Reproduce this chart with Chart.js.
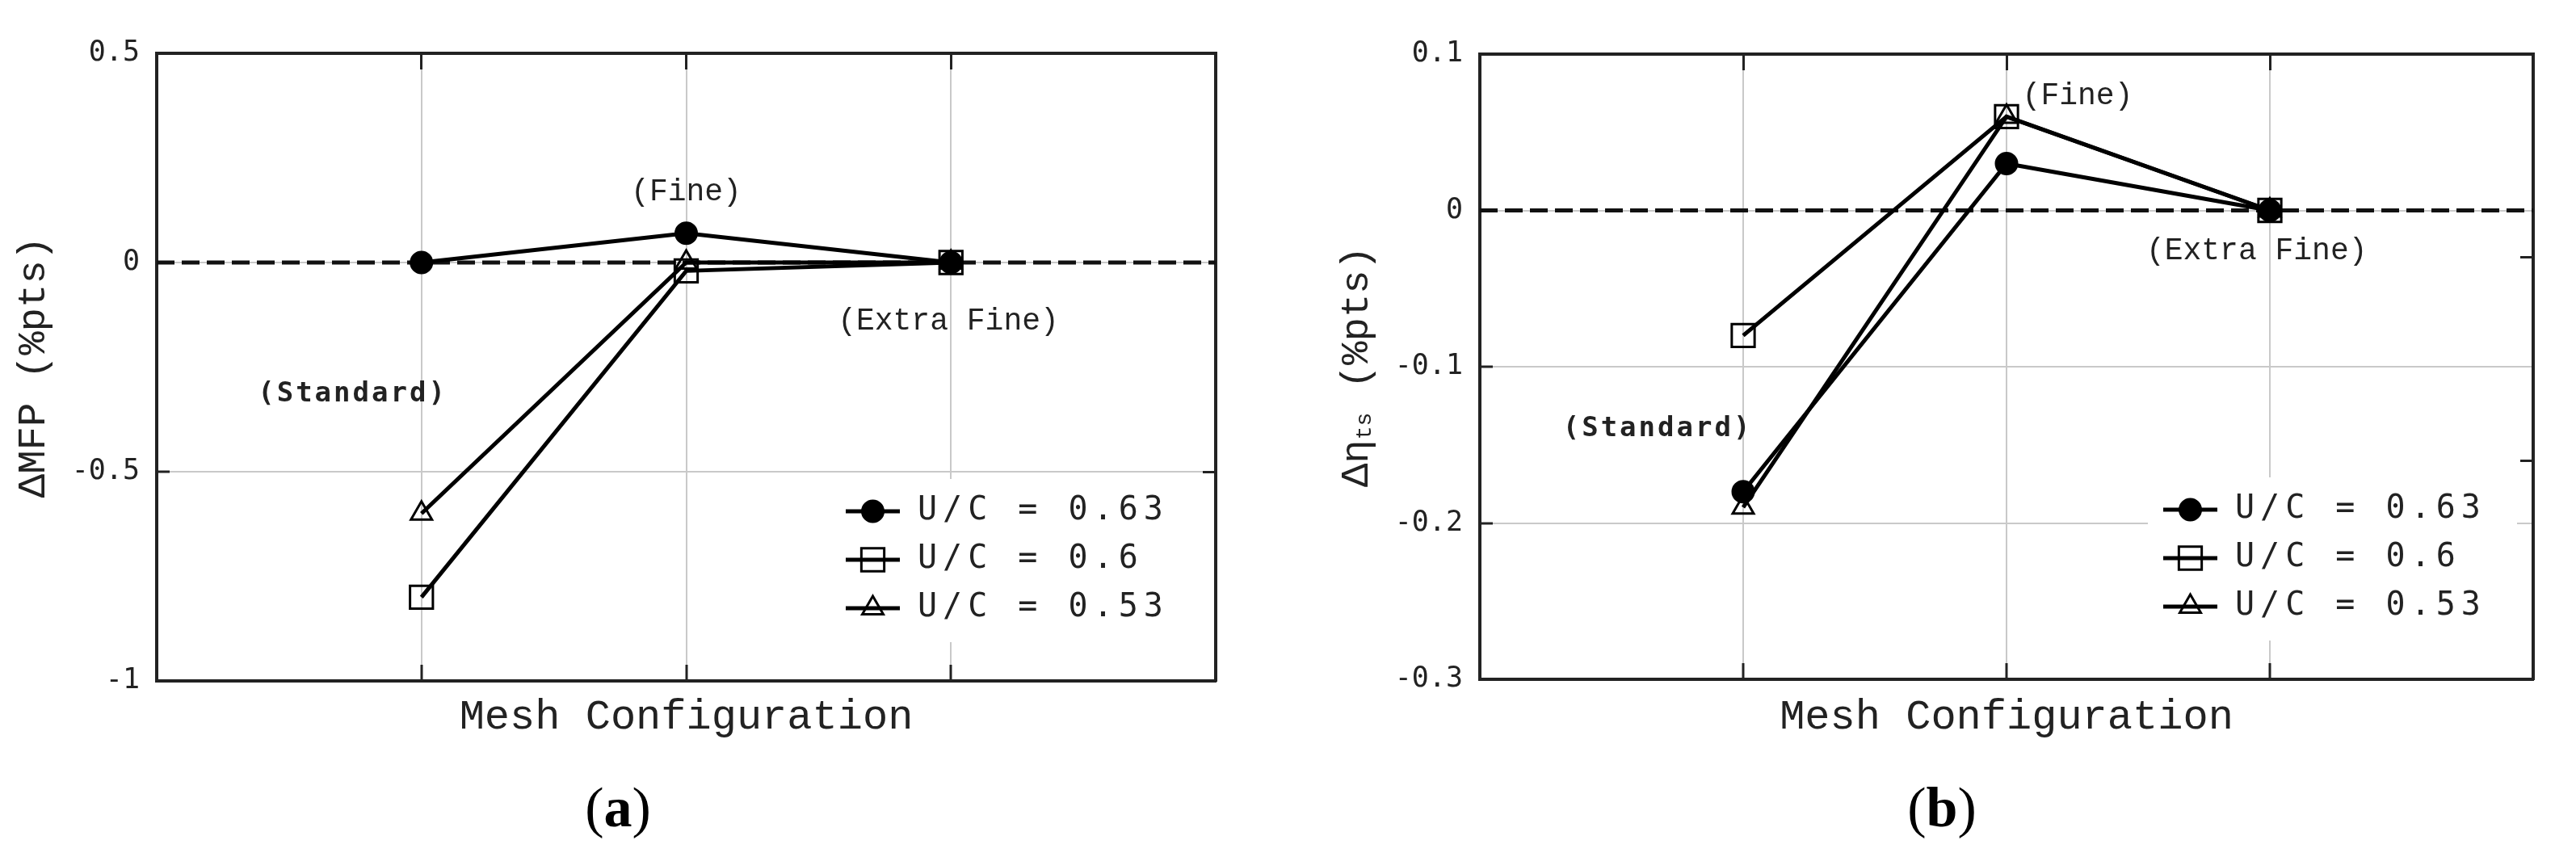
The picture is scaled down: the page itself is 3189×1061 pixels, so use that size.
<!DOCTYPE html>
<html>
<head>
<meta charset="utf-8">
<title>Mesh sensitivity</title>
<script src="https://cdn.jsdelivr.net/npm/chart.js@4.4.1/dist/chart.umd.min.js"></script>
<style>
  html, body { margin: 0; padding: 0; background: #fff; }
  body { position: relative; width: 3189px; height: 1061px; overflow: hidden; }
  .panel { position: absolute; top: 0; height: 1061px; }
  #panelA { left: 0; width: 1594px; }
  #panelB { left: 1594px; width: 1595px; }
  .tag { position: absolute; top: 1000px; transform: translate(-50%, -50%); font-family: "Liberation Serif", serif; font-size: 70px; color: #000; line-height: 1; }
</style>
</head>
<body>
<div class="panel" id="panelA"><canvas id="chartA"></canvas></div>
<div class="panel" id="panelB"><canvas id="chartB"></canvas></div>
<div class="tag" style="left:765px">(<b>a</b>)</div>
<div class="tag" style="left:2404px">(<b>b</b>)</div>
<script>
const meshLevels = ['Standard', 'Fine', 'Extra Fine'];
const meshPos = [1, 2, 3];
const seriesLabels = ['U/C = 0.63', 'U/C = 0.6', 'U/C = 0.53'];

// (a) change in MFP, %pts
const mfp063 = [0, 0.07, 0];
const mfp060 = [-0.8, -0.02, 0];
const mfp053 = [-0.6, 0, 0];
const mfpTicks = [-1, -0.5, 0, 0.5];
const mfpRightTicks = [-0.5];

// (b) change in eta_ts, %pts
const eta063 = [-0.18, 0.03, 0];
const eta060 = [-0.08, 0.06, 0];
const eta053 = [-0.19, 0.06, 0];
const etaTicks = [-0.3, -0.2, -0.1, 0, 0.1];
const etaRightTicks = [-0.16, -0.03];

const ink = '#222';
const gridGray = '#c9c9c9';
const markers = [
    { shape: 'circle', radius: 13, fill: '#000' },
    { shape: 'rect', radius: 20, fill: 'rgba(0,0,0,0)' },
    { shape: 'triangle', radius: 15, fill: 'rgba(0,0,0,0)' }
];

function drawMarker(ctx, m, x, y) {
    ctx.save();
    ctx.lineWidth = 3;
    ctx.strokeStyle = '#000';
    ctx.fillStyle = m.fill;
    ctx.beginPath();
    if (m.shape === 'circle') {
        ctx.arc(x, y, m.radius, 0, Math.PI * 2);
    } else if (m.shape === 'rect') {
        const h = m.radius * Math.SQRT1_2;
        ctx.rect(x - h, y - h, 2 * h, 2 * h);
    } else {
        for (let k = 0; k < 3; k++) {
            const r = k * 2 * Math.PI / 3;
            const px = x + Math.sin(r) * m.radius, py = y - Math.cos(r) * m.radius;
            if (k === 0) ctx.moveTo(px, py); else ctx.lineTo(px, py);
        }
        ctx.closePath();
    }
    ctx.fill();
    ctx.stroke();
    ctx.restore();
}

const decor = {
    id: 'decor',
    beforeDatasetsDraw(chart, args, o) {
        const { ctx, chartArea: a } = chart;
        const lg = o.legend;
        ctx.save();
        ctx.fillStyle = '#fff';
        ctx.fillRect(a.right - lg.boxLeft, a.bottom - lg.boxTop, lg.boxLeft - lg.boxRight, lg.boxTop - lg.boxBottom);
        seriesLabels.forEach((label, i) => {
            const y = a.bottom - lg.rows[i];
            const x0 = a.right - lg.symbolLeft;
            ctx.strokeStyle = '#000';
            ctx.lineWidth = 5;
            ctx.beginPath();
            ctx.moveTo(x0, y);
            ctx.lineTo(x0 + lg.symbolWidth, y);
            ctx.stroke();
            drawMarker(ctx, markers[i], x0 + lg.symbolWidth / 2, y);
            ctx.font = '40px "DejaVu Sans Mono"';
            ctx.fillStyle = ink;
            ctx.textAlign = 'left';
            ctx.textBaseline = 'middle';
            ctx.letterSpacing = '7px';
            ctx.fillText(label, a.right - lg.textLeft, y);
            ctx.letterSpacing = '0px';
        });
        ctx.restore();
    },
    afterDraw(chart, args, o) {
        const { ctx, chartArea: a, scales } = chart;
        ctx.save();
        ctx.fillStyle = ink;
        ctx.textAlign = 'center';
        ctx.textBaseline = 'middle';
        o.notes.forEach(n => {
            ctx.font = n.font;
            ctx.letterSpacing = n.spacing || '0px';
            ctx.fillText(n.text, scales.x.getPixelForValue(n.x), scales.y.getPixelForValue(n.y));
        });
        ctx.letterSpacing = '0px';
        ctx.restore();

        // rotated y title, may carry a subscript
        ctx.save();
        ctx.translate(a.left - 152, (a.top + a.bottom) / 2);
        ctx.rotate(-Math.PI / 2);
        ctx.fillStyle = ink;
        ctx.textAlign = 'left';
        ctx.textBaseline = 'middle';
        const size = 49;
        const parts = o.yTitle.map(p => {
            ctx.font = (p.sub ? 28 : size) + 'px "Liberation Mono"';
            return { ...p, w: ctx.measureText(p.text).width };
        });
        let x = -parts.reduce((s, p) => s + p.w, 0) / 2;
        parts.forEach(p => {
            ctx.font = (p.sub ? 28 : size) + 'px "Liberation Mono"';
            ctx.fillText(p.text, x, p.sub ? 10 : 0);
            x += p.w;
        });
        ctx.restore();
    }
};

function makeChart(id, o) {
    const inner = (c) => (c.tick && c.tick.value > o.min && c.tick.value < o.max) ? gridGray : 'rgba(0,0,0,0)';
    const datasets = o.series.map((vals, i) => ({
        label: seriesLabels[i],
        data: meshPos.map((x, j) => ({ x: x, y: vals[j] })),
        borderColor: '#000',
        borderWidth: 5,
        pointStyle: markers[i].shape,
        pointRadius: markers[i].radius,
        pointBackgroundColor: markers[i].fill,
        pointBorderColor: '#000',
        pointBorderWidth: 3,
        order: 1
    }));
    // zero reference line
    datasets.push({
        label: '',
        data: [{ x: 0, y: 0 }, { x: 4, y: 0 }],
        borderColor: '#111',
        borderWidth: 5,
        borderDash: [22, 9],
        pointRadius: 0,
        order: 5
    });

    const catTicks = s => { s.ticks = meshPos.map(v => ({ value: v })); };

    return new Chart(document.getElementById(id), {
        type: 'line',
        data: { datasets: datasets },
        options: {
            responsive: true,
            maintainAspectRatio: false,
            animation: false,
            layout: { padding: { left: 0, top: o.top, right: o.right, bottom: 0 } },
            plugins: {
                legend: { display: false },
                tooltip: { enabled: false },
                decor: {
                    notes: o.notes,
                    yTitle: o.yTitle,
                    legend: {
                        boxLeft: 477, boxRight: 20, boxTop: 250, boxBottom: 48,
                        symbolLeft: 458, symbolWidth: 67, textLeft: 369,
                        rows: [210, 150, 90]
                    }
                }
            },
            scales: {
                x: {
                    type: 'linear', position: 'bottom', min: 0, max: 4,
                    afterBuildTicks: catTicks,
                    ticks: { display: false },
                    grid: { color: gridGray, lineWidth: 2, tickLength: -20, tickColor: ink, tickWidth: 3 },
                    border: { color: ink, width: 4 },
                    title: {
                        display: true, text: 'Mesh Configuration', color: ink,
                        font: { family: 'Liberation Mono', size: 52 },
                        padding: { top: 0, bottom: 142 }
                    },
                    afterFit: s => { s.height = o.xHeight; }
                },
                xTop: {
                    type: 'linear', position: 'top', min: 0, max: 4,
                    afterBuildTicks: catTicks,
                    ticks: { display: false },
                    grid: { drawOnChartArea: false, tickLength: -20, tickColor: ink, tickWidth: 3 },
                    border: { color: ink, width: 4 },
                    afterFit: s => { s.height = 0; }
                },
                y: {
                    type: 'linear', position: 'left', min: o.min, max: o.max,
                    afterBuildTicks: s => { s.ticks = o.ticks.map(v => ({ value: v })); },
                    ticks: {
                        color: ink, padding: 37,
                        font: { family: 'DejaVu Sans Mono', size: 35 },
                        callback: v => String(v)
                    },
                    grid: { color: inner, lineWidth: 2, tickLength: -16, tickColor: ink, tickWidth: 3 },
                    border: { color: ink, width: 4 },
                    afterFit: s => { s.width = o.yWidth; }
                },
                yRight: {
                    type: 'linear', position: 'right', min: o.min, max: o.max,
                    afterBuildTicks: s => { s.ticks = o.rightTicks.map(v => ({ value: v })); },
                    ticks: { display: false },
                    grid: { drawOnChartArea: false, tickLength: -16, tickColor: ink, tickWidth: 3 },
                    border: { color: ink, width: 4 },
                    afterFit: s => { s.width = 0; }
                }
            }
        },
        plugins: [decor]
    });
}

document.addEventListener('DOMContentLoaded', function () {
    const bold = 'bold 34px "DejaVu Sans Mono"';
    const plain = '38px "Liberation Mono"';

    makeChart('chartA', {
        series: [mfp063, mfp060, mfp053],
        min: -1, max: 0.5, ticks: mfpTicks, rightTicks: mfpRightTicks,
        top: 66, right: 89, yWidth: 194, xHeight: 218,
        yTitle: [{ text: '\u0394MFP (%pts)' }],
        notes: [
            { text: '(' + meshLevels[0] + ')', x: 0.74, y: -0.315, font: bold, spacing: '3px' },
            { text: '(' + meshLevels[1] + ')', x: 2.0, y: 0.168, font: plain },
            { text: '(' + meshLevels[2] + ')', x: 2.99, y: -0.141, font: plain }
        ]
    });

    makeChart('chartB', {
        series: [eta063, eta060, eta053],
        min: -0.3, max: 0.1, ticks: etaTicks, rightTicks: etaRightTicks,
        top: 67, right: 53, yWidth: 238, xHeight: 220,
        yTitle: [{ text: '\u0394\u03b7' }, { text: 'ts', sub: true }, { text: ' (%pts)' }],
        notes: [
            { text: '(' + meshLevels[0] + ')', x: 0.675, y: -0.14, font: bold, spacing: '3px' },
            { text: '(' + meshLevels[1] + ')', x: 2.27, y: 0.073, font: plain },
            { text: '(' + meshLevels[2] + ')', x: 2.95, y: -0.026, font: plain }
        ]
    });
});
</script>
</body>
</html>
